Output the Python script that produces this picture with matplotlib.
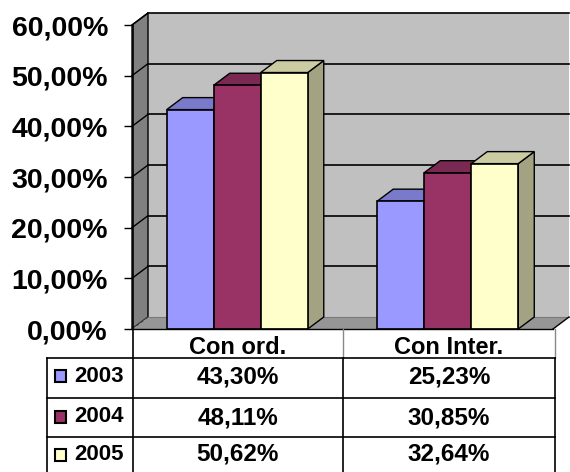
import numpy as np
import matplotlib
matplotlib.use("Agg")
import matplotlib.pyplot as plt
from matplotlib.patches import Polygon, Rectangle
from matplotlib.ticker import FuncFormatter

# ---- data -------------------------------------------------------------
categories = ["Con ord.", "Con Inter."]
years = ["2003", "2004", "2005"]
values_2003 = [0.4330, 0.2523]
values_2004 = [0.4811, 0.3085]
values_2005 = [0.5062, 0.3264]
series = [values_2003, values_2004, values_2005]
colors = ["#9999FF", "#993366", "#FFFFCC"]
y_ticks = [0.0, 0.1, 0.2, 0.3, 0.4, 0.5, 0.6]

FONT = "Liberation Sans"
W_PX, H_PX = 570, 472


def pct(v):
    return f"{v * 100:.2f}%".replace(".", ",")


def shade(c, f):
    r, g, b = matplotlib.colors.to_rgb(c)
    return (r * f, g * f, b * f)


fig = plt.figure(figsize=(W_PX / 100, H_PX / 100), dpi=100)
fig.patch.set_facecolor("white")

# front plane of the plot area, in pixels
left_px, right_px, top_px, bottom_px = 132, 553, 25, 329
ax = fig.add_axes([left_px / W_PX, 1 - bottom_px / H_PX,
                   (right_px - left_px) / W_PX, (bottom_px - top_px) / H_PX])
ncat = len(categories)
ymax = y_ticks[-1]
ax.set_xlim(0, ncat)
ax.set_ylim(0, ymax)

# depth of the 3-D box converted to data units
depth_dx_px, depth_dy_px = 16, 12
DX = depth_dx_px / (right_px - left_px) * ncat
DY = depth_dy_px / (bottom_px - top_px) * ymax

# walls and floor
back = Polygon([(DX, DY), (ncat + DX, DY), (ncat + DX, ymax + DY), (DX, ymax + DY)],
               closed=True, facecolor="#C0C0C0", edgecolor="none", zorder=0.5, clip_on=False)
side = Polygon([(0, 0), (DX, DY), (DX, ymax + DY), (0, ymax)],
               closed=True, facecolor="#808080", edgecolor="black", lw=1.0, zorder=0.6, clip_on=False)
floor = Polygon([(0, 0), (ncat, 0), (ncat + DX, DY), (DX, DY)],
                closed=True, facecolor="#969696", edgecolor="none", zorder=0.6, clip_on=False)
for p in (back, side, floor):
    ax.add_patch(p)
ax.plot([0, DX], [0, DY], color="#404040", lw=1.0, ls=(0, (2, 2)), zorder=0.7, clip_on=False)
ax.plot([ncat, ncat + DX], [0, DY], color="black", lw=1.0, zorder=0.7, clip_on=False)
ax.plot([DX, ncat + DX], [DY, DY], color="#7a7a7a", lw=0.8, zorder=0.65, clip_on=False)

# gridlines on back and left walls
for v in y_ticks[1:]:
    ax.plot([DX, ncat + DX], [v + DY, v + DY], color="black", lw=1.2, zorder=0.8, clip_on=False)
    ax.plot([0, DX], [v, v + DY], color="black", lw=1.0, zorder=0.8, clip_on=False)

# bars (front face, top, right side)
group_span = 0.67
bw = group_span / len(series)
for c in range(ncat):
    for s, vals in enumerate(series):
        v = vals[c]
        x0 = c + 0.5 - group_span / 2 + s * bw
        z = 2 + c + s * 0.1
        col = colors[s]
        ax.add_patch(Polygon([(x0 + bw, 0), (x0 + bw + DX, DY), (x0 + bw + DX, v + DY), (x0 + bw, v)],
                             closed=True, facecolor=shade(col, 0.64), edgecolor="black",
                             lw=1.0, zorder=z, clip_on=False))
        ax.add_patch(Polygon([(x0, v), (x0 + bw, v), (x0 + bw + DX, v + DY), (x0 + DX, v + DY)],
                             closed=True, facecolor=shade(col, 0.8), edgecolor="black",
                             lw=1.0, zorder=z + 0.01, clip_on=False))
        ax.bar(x0, v, width=bw, align="edge", color=col, edgecolor="black",
               lw=1.2, zorder=z + 0.02, clip_on=False)

# axes styling
for sp in ("top", "right"):
    ax.spines[sp].set_visible(False)
ax.spines["left"].set_visible(False)
ax.spines["bottom"].set_color("black")
ax.spines["bottom"].set_linewidth(1.0)
ax.spines["bottom"].set_zorder(10)
ax.set_xticks([])
ax.set_yticks(y_ticks)
ax.yaxis.set_major_formatter(FuncFormatter(lambda v, _: pct(v)))
ax.tick_params(axis="y", direction="out", length=5.8, width=1.0, pad=11.5,
               labelsize=20.5)
for lab in ax.get_yticklabels():
    lab.set_fontfamily(FONT)
    lab.set_fontweight("bold")
ax.set_facecolor("none")

# ---- data table below the plot (pixel layout) -------------------------
tab = fig.add_axes([0, 0, 1, 1], zorder=5)
tab.set_xlim(0, W_PX)
tab.set_ylim(H_PX, 0)
tab.axis("off")
tab.patch.set_alpha(0)

key_left, col0, col1, col2 = 47, 132.5, 343, 555
row_lines = [358, 398, 437]
# y axis line running from the plot down through the table
tab.plot([col0, col0], [top_px, H_PX], color="black", lw=1.2)
# header column separators (grey)
tab.plot([col1, col1], [bottom_px, row_lines[0]], color="#888888", lw=1.0)
tab.plot([col2, col2], [bottom_px, row_lines[0]], color="#888888", lw=1.0)
# body grid
for yl in row_lines:
    tab.plot([key_left, col2], [yl, yl], color="black", lw=1.2)
for xl in (key_left, col1, col2):
    tab.plot([xl, xl], [row_lines[0], H_PX], color="black", lw=1.2)

col_centers = [(col0 + col1) / 2, (col1 + col2) / 2]
for c, name in enumerate(categories):
    tab.text(col_centers[c], 347.5, name, ha="center", va="center",
             fontsize=17, fontweight="bold", family=FONT)

value_y = [377, 418, 454]
legend_y = [376, 417, 455]
for s, vals in enumerate(series):
    tab.add_patch(Rectangle((54.5, legend_y[s] - 6), 11, 12, facecolor=colors[s],
                            edgecolor="black", lw=1.5))
    tab.text(74, legend_y[s], years[s], ha="left", va="center",
             fontsize=16, fontweight="bold", family=FONT)
    for c in range(ncat):
        tab.text(col_centers[c], value_y[s], pct(vals[c]), ha="center", va="center",
                 fontsize=17.5, fontweight="bold", family=FONT)

fig.savefig("out.png", dpi=100, facecolor="white")
